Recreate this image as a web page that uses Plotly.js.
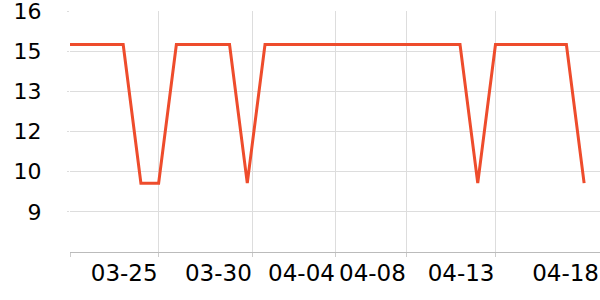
<!DOCTYPE html>
<html>
<head>
<meta charset="utf-8">
<script src="https://cdn.plot.ly/plotly-3.0.1.min.js"></script>
<style>html,body{margin:0;padding:0;background:#fff;}#chart{width:600px;height:300px;}</style>
</head>
<body>
<div id="chart"></div>
<script>
const dates = ['2024-03-20','2024-03-21','2024-03-22','2024-03-23','2024-03-24','2024-03-25','2024-03-26','2024-03-27','2024-03-28','2024-03-29',
               '2024-03-30','2024-03-31','2024-04-01','2024-04-02','2024-04-03','2024-04-04','2024-04-05','2024-04-06','2024-04-07','2024-04-08',
               '2024-04-09','2024-04-10','2024-04-11','2024-04-12','2024-04-13','2024-04-14','2024-04-15','2024-04-16','2024-04-17','2024-04-18'];
const values = [14.83,14.83,14.83,14.83,10.0,10.0,14.83,14.83,14.83,14.83,
                10.0,14.83,14.83,14.83,14.83,14.83,14.83,14.83,14.83,14.83,
                14.83,14.83,14.83,10.0,14.83,14.83,14.83,14.83,14.83,10.0];
const xTickVals = ['2024-03-20','2024-03-25','2024-03-30 07:30','2024-04-04','2024-04-08','2024-04-13','2024-04-18 21:30'];
const xTickText = ['','03-25','03-30','04-04','04-08','04-13','04-18'];
const yTickVals = [9, 10.4, 11.8, 13.2, 14.6, 16];
const yRange = [7.6, 16];
const xRange = ['2024-03-20', '2024-04-18 21:30'];

const trace = {
  x: dates, y: values, type: 'scatter', mode: 'lines',
  line: {color: '#EE4C2C', width: 3},
  hoverinfo: 'skip'
};
const layout = {
  width: 600, height: 300,
  margin: {l: 70, r: 0, t: 11, b: 48},
  paper_bgcolor: '#fff', plot_bgcolor: '#fff',
  showlegend: false,
  font: {family: 'DejaVu Sans', size: 22, color: '#000'},
  xaxis: {
    type: 'date', range: xRange,
    tickmode: 'array', tickvals: xTickVals, ticktext: xTickText,
    ticklabelposition: 'outside left', tickangle: 0,
    ticklabeloverflow: 'allow',
    showgrid: true, gridcolor: '#dddddd', gridwidth: 1,
    showline: true, linecolor: '#bbbbbb', linewidth: 1,
    ticks: 'outside', ticklen: 4, tickcolor: '#cccccc',
    zeroline: false,
    tickfont: {family: 'DejaVu Sans', size: 23, color: '#000'}
  },
  yaxis: {
    range: yRange,
    tickmode: 'array', tickvals: yTickVals, tickformat: '.0f',
    ticklabeloverflow: 'allow',
    showgrid: true, gridcolor: '#dddddd', gridwidth: 1,
    showline: false, zeroline: false,
    ticks: 'outside', ticklen: 2, tickcolor: '#dddddd',
    ticklabelstandoff: 21,
    tickfont: {family: 'DejaVu Sans', size: 22, color: '#000'}
  }
};
Plotly.newPlot('chart', [trace], layout, {displayModeBar: false, staticPlot: true});
</script>
</body>
</html>
